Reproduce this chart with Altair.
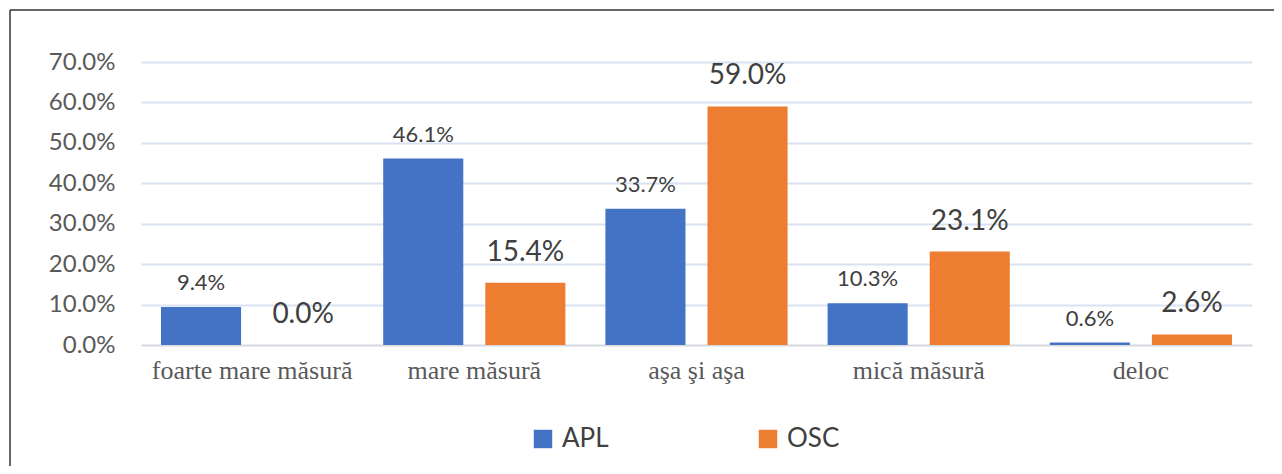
import altair as alt
import pandas as pd

categories = ["foarte mare măsură", "mare măsură", "aşa şi aşa", "mică măsură", "deloc"]
series = ["APL", "OSC"]
apl = [9.4, 46.1, 33.7, 10.3, 0.6]
osc = [0.0, 15.4, 59.0, 23.1, 2.6]
y_ticks = [0.0, 0.1, 0.2, 0.3, 0.4, 0.5, 0.6, 0.7]
colors = ["#4472c4", "#ed7d31"]

rows = []
for c, a, o in zip(categories, apl, osc):
    rows.append({"category": c, "series": "APL", "value": a / 100})
    rows.append({"category": c, "series": "OSC", "value": o / 100})
df = pd.DataFrame(rows)

W, H = 1111, 283

base = alt.Chart(df).encode(
    x=alt.X("category:N", sort=categories, title=None,
            scale=alt.Scale(paddingInner=0, paddingOuter=0),
            axis=alt.Axis(labelAngle=0, labelFont="Liberation Serif", labelFontSize=26,
                          labelColor="#595959", labelBaseline="alphabetic", labelPadding=33,
                          labelLimit=0, ticks=False, tickSize=0,
                          domainColor="#d9d9d9", domainWidth=1.5)),
    xOffset=alt.XOffset("series:N", sort=series,
                        scale=alt.Scale(paddingInner=0.2157, paddingOuter=0.196)),
    y=alt.Y("value:Q", title=None, scale=alt.Scale(domain=[0, 0.7], nice=False),
            axis=alt.Axis(values=y_ticks, format=".1%", labelFont="Lato", labelFontSize=24,
                          labelColor="#595959", labelPadding=26, ticks=False, tickSize=0,
                          domain=False, gridColor="#d9e1f2", gridWidth=2)),
)

bars = base.mark_bar().encode(
    color=alt.Color("series:N", sort=series, scale=alt.Scale(domain=series, range=colors),
                    legend=alt.Legend(orient="none", legendX=389, legendY=364, direction="horizontal",
                                      title=None, symbolType="square", symbolSize=340,
                                      symbolStrokeWidth=0, labelFontSize=26, labelFont="Lato",
                                      labelColor="#404040", columnPadding=146, labelOffset=6))
)

text_apl = base.mark_text(baseline="alphabetic", dy=-17, fontSize=22, font="Lato", color="#404040").encode(
    text=alt.Text("value:Q", format=".1%")
).transform_filter(alt.datum.series == "APL")

text_osc = base.mark_text(baseline="alphabetic", dy=-22, fontSize=28, font="Lato", color="#404040").encode(
    text=alt.Text("value:Q", format=".1%")
).transform_filter(alt.datum.series == "OSC")

frame_df = pd.DataFrame({"k": [0]})
frame_left = alt.Chart(frame_df).mark_rule(color="#333333", strokeWidth=1.5).encode(
    x=alt.value(-131), y=alt.value(-52), y2=alt.value(H + 121)
)
frame_top = alt.Chart(frame_df).mark_rule(color="#333333", strokeWidth=1.5).encode(
    y=alt.value(-52), x=alt.value(-131), x2=alt.value(W + 22)
)

chart = alt.layer(bars, text_apl, text_osc, frame_left, frame_top).properties(
    width=W, height=H,
    autosize="none",
    background="white",
    padding={"left": 133, "top": 54, "right": 22, "bottom": 121},
).configure_view(stroke=None)

chart.save("out.html", embed_options={"renderer": "svg", "actions": False})
